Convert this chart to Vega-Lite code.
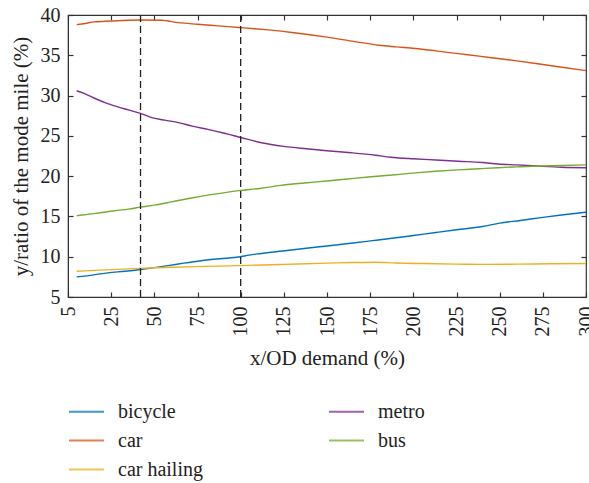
{
  "$schema": "https://vega.github.io/schema/vega-lite/v6.json",
  "autosize": {"type": "none"},
  "padding": {"left": 68, "top": 15, "right": 3, "bottom": 186},
  "width": 518,
  "height": 282,
  "background": "white",
  "config": {
    "font": "Liberation Serif",
    "view": {"stroke": "#333333", "strokeWidth": 1.2},
    "axis": {
      "labelFont": "Liberation Serif",
      "titleFont": "Liberation Serif",
      "labelFontSize": 20,
      "titleFontSize": 21,
      "titleFontWeight": "normal",
      "labelColor": "#222222",
      "titleColor": "#222222",
      "domainColor": "#333333",
      "tickColor": "#333333",
      "grid": false,
      "tickSize": -5,
      "tickWidth": 1.2
    }
  },
  "datasets": {
    "lines": [
      {"x": 5, "mode": "bicycle", "v": 7.5}, {"x": 15, "mode": "bicycle", "v": 7.75}, {"x": 23, "mode": "bicycle", "v": 8.0}, {"x": 33, "mode": "bicycle", "v": 8.2}, {"x": 42, "mode": "bicycle", "v": 8.42}, {"x": 50, "mode": "bicycle", "v": 8.65}, {"x": 58, "mode": "bicycle", "v": 8.9}, {"x": 67, "mode": "bicycle", "v": 9.2}, {"x": 77, "mode": "bicycle", "v": 9.5}, {"x": 88, "mode": "bicycle", "v": 9.75}, {"x": 99, "mode": "bicycle", "v": 9.96}, {"x": 105, "mode": "bicycle", "v": 10.2}, {"x": 112, "mode": "bicycle", "v": 10.4}, {"x": 128, "mode": "bicycle", "v": 10.8}, {"x": 138, "mode": "bicycle", "v": 11.05}, {"x": 150, "mode": "bicycle", "v": 11.33}, {"x": 165, "mode": "bicycle", "v": 11.7}, {"x": 175, "mode": "bicycle", "v": 11.96}, {"x": 190, "mode": "bicycle", "v": 12.35}, {"x": 200, "mode": "bicycle", "v": 12.63}, {"x": 213, "mode": "bicycle", "v": 13.0}, {"x": 225, "mode": "bicycle", "v": 13.34}, {"x": 240, "mode": "bicycle", "v": 13.75}, {"x": 250, "mode": "bicycle", "v": 14.17}, {"x": 262, "mode": "bicycle", "v": 14.5}, {"x": 275, "mode": "bicycle", "v": 14.88}, {"x": 287, "mode": "bicycle", "v": 15.2}, {"x": 300, "mode": "bicycle", "v": 15.52},

      {"x": 5, "mode": "car", "v": 38.8}, {"x": 10, "mode": "car", "v": 38.95}, {"x": 15, "mode": "car", "v": 39.15}, {"x": 25, "mode": "car", "v": 39.25}, {"x": 35, "mode": "car", "v": 39.35}, {"x": 42, "mode": "car", "v": 39.38}, {"x": 54, "mode": "car", "v": 39.35}, {"x": 64, "mode": "car", "v": 39.05}, {"x": 75, "mode": "car", "v": 38.85}, {"x": 87, "mode": "car", "v": 38.65}, {"x": 99, "mode": "car", "v": 38.45}, {"x": 108, "mode": "car", "v": 38.3}, {"x": 116, "mode": "car", "v": 38.15}, {"x": 131, "mode": "car", "v": 37.8}, {"x": 140, "mode": "car", "v": 37.55}, {"x": 150, "mode": "car", "v": 37.25}, {"x": 166, "mode": "car", "v": 36.7}, {"x": 180, "mode": "car", "v": 36.25}, {"x": 190, "mode": "car", "v": 36.05}, {"x": 201, "mode": "car", "v": 35.85}, {"x": 213, "mode": "car", "v": 35.55}, {"x": 226, "mode": "car", "v": 35.2}, {"x": 238, "mode": "car", "v": 34.9}, {"x": 249, "mode": "car", "v": 34.6}, {"x": 260, "mode": "car", "v": 34.3}, {"x": 272, "mode": "car", "v": 33.95}, {"x": 285, "mode": "car", "v": 33.55}, {"x": 300, "mode": "car", "v": 33.1},

      {"x": 5, "mode": "car hailing", "v": 8.2}, {"x": 25, "mode": "car hailing", "v": 8.4}, {"x": 42, "mode": "car hailing", "v": 8.55}, {"x": 60, "mode": "car hailing", "v": 8.7}, {"x": 80, "mode": "car hailing", "v": 8.8}, {"x": 100, "mode": "car hailing", "v": 8.9}, {"x": 125, "mode": "car hailing", "v": 9.05}, {"x": 150, "mode": "car hailing", "v": 9.2}, {"x": 165, "mode": "car hailing", "v": 9.28}, {"x": 178, "mode": "car hailing", "v": 9.32}, {"x": 190, "mode": "car hailing", "v": 9.22}, {"x": 205, "mode": "car hailing", "v": 9.15}, {"x": 225, "mode": "car hailing", "v": 9.08}, {"x": 240, "mode": "car hailing", "v": 9.05}, {"x": 260, "mode": "car hailing", "v": 9.08}, {"x": 280, "mode": "car hailing", "v": 9.12}, {"x": 300, "mode": "car hailing", "v": 9.15},

      {"x": 5, "mode": "metro", "v": 30.6}, {"x": 10, "mode": "metro", "v": 30.2}, {"x": 15, "mode": "metro", "v": 29.7}, {"x": 23, "mode": "metro", "v": 29.0}, {"x": 32, "mode": "metro", "v": 28.4}, {"x": 42, "mode": "metro", "v": 27.8}, {"x": 48, "mode": "metro", "v": 27.3}, {"x": 56, "mode": "metro", "v": 26.95}, {"x": 64, "mode": "metro", "v": 26.65}, {"x": 72, "mode": "metro", "v": 26.2}, {"x": 81, "mode": "metro", "v": 25.8}, {"x": 90, "mode": "metro", "v": 25.35}, {"x": 100, "mode": "metro", "v": 24.8}, {"x": 112, "mode": "metro", "v": 24.15}, {"x": 125, "mode": "metro", "v": 23.7}, {"x": 138, "mode": "metro", "v": 23.4}, {"x": 150, "mode": "metro", "v": 23.15}, {"x": 164, "mode": "metro", "v": 22.9}, {"x": 178, "mode": "metro", "v": 22.6}, {"x": 187, "mode": "metro", "v": 22.35}, {"x": 200, "mode": "metro", "v": 22.15}, {"x": 213, "mode": "metro", "v": 22.0}, {"x": 226, "mode": "metro", "v": 21.85}, {"x": 240, "mode": "metro", "v": 21.7}, {"x": 249, "mode": "metro", "v": 21.5}, {"x": 260, "mode": "metro", "v": 21.4}, {"x": 272, "mode": "metro", "v": 21.25}, {"x": 286, "mode": "metro", "v": 21.1}, {"x": 300, "mode": "metro", "v": 21.05},

      {"x": 5, "mode": "bus", "v": 15.1}, {"x": 15, "mode": "bus", "v": 15.35}, {"x": 27, "mode": "bus", "v": 15.7}, {"x": 35, "mode": "bus", "v": 15.9}, {"x": 42, "mode": "bus", "v": 16.15}, {"x": 50, "mode": "bus", "v": 16.4}, {"x": 60, "mode": "bus", "v": 16.8}, {"x": 73, "mode": "bus", "v": 17.35}, {"x": 86, "mode": "bus", "v": 17.8}, {"x": 99, "mode": "bus", "v": 18.2}, {"x": 112, "mode": "bus", "v": 18.5}, {"x": 123, "mode": "bus", "v": 18.85}, {"x": 137, "mode": "bus", "v": 19.15}, {"x": 150, "mode": "bus", "v": 19.4}, {"x": 162, "mode": "bus", "v": 19.65}, {"x": 174, "mode": "bus", "v": 19.9}, {"x": 188, "mode": "bus", "v": 20.15}, {"x": 201, "mode": "bus", "v": 20.4}, {"x": 213, "mode": "bus", "v": 20.6}, {"x": 226, "mode": "bus", "v": 20.78}, {"x": 238, "mode": "bus", "v": 20.92}, {"x": 249, "mode": "bus", "v": 21.05}, {"x": 260, "mode": "bus", "v": 21.15}, {"x": 272, "mode": "bus", "v": 21.25}, {"x": 286, "mode": "bus", "v": 21.32}, {"x": 300, "mode": "bus", "v": 21.4}
    ],
    "marks": [
      {"x": 42, "ylo": 5, "yhi": 40},
      {"x": 100, "ylo": 5, "yhi": 40}
    ]
  },
  "resolve": {"axis": {"x": "independent", "y": "independent"}},
  "layer": [
    {
      "data": {"name": "lines"},
      "mark": {"type": "line", "strokeWidth": 1.4, "interpolate": "monotone"},
      "encoding": {
        "x": {
          "field": "x", "type": "quantitative",
          "scale": {"domain": [0, 300], "nice": false, "zero": false},
          "axis": {
            "orient": "bottom",
            "values": [0, 25, 50, 75, 100, 125, 150, 175, 200, 225, 250, 275, 300],
            "labelExpr": "datum.value == 0 ? '5' : datum.label",
            "labelAngle": -90,
            "labelPadding": 14,
            "title": "x/OD demand (%)",
            "titlePadding": 11
          }
        },
        "y": {
          "field": "v", "type": "quantitative",
          "scale": {"domain": [5, 40], "nice": false, "zero": false},
          "axis": {
            "orient": "left",
            "values": [5, 10, 15, 20, 25, 30, 35, 40],
            "labelPadding": 13,
            "title": "y/ratio of the mode mile (%)",
            "titlePadding": 9
          }
        },
        "color": {
          "field": "mode", "type": "nominal",
          "scale": {
            "domain": ["bicycle", "metro", "car", "bus", "car hailing"],
            "range": ["#0072BD", "#7E2F8E", "#D95319", "#77AC30", "#EDB120"]
          },
          "legend": {
            "orient": "none",
            "legendX": 0,
            "legendY": 378,
            "columns": 2,
            "direction": "horizontal",
            "title": null,
            "padding": 0,
            "symbolType": "stroke",
            "symbolSize": 1225,
            "symbolStrokeWidth": 2,
            "symbolOpacity": 0.75,
            "labelFont": "Liberation Serif",
            "labelFontSize": 20,
            "labelColor": "#222222",
            "labelOffset": 13,
            "rowPadding": -6,
            "columnPadding": 122
          }
        }
      }
    },
    {
      "data": {"name": "marks"},
      "mark": {"type": "rule", "color": "#222222", "strokeWidth": 1.3, "strokeDash": [7, 4]},
      "encoding": {
        "x": {
          "field": "x", "type": "quantitative",
          "axis": {
            "orient": "top",
            "values": [0, 25, 50, 75, 100, 125, 150, 175, 200, 225, 250, 275, 300],
            "labels": false, "domain": false, "title": null
          }
        },
        "y": {
          "field": "ylo", "type": "quantitative",
          "axis": {
            "orient": "right",
            "values": [5, 10, 15, 20, 25, 30, 35, 40],
            "labels": false, "domain": false, "title": null
          }
        },
        "y2": {"field": "yhi"}
      }
    }
  ]
}
